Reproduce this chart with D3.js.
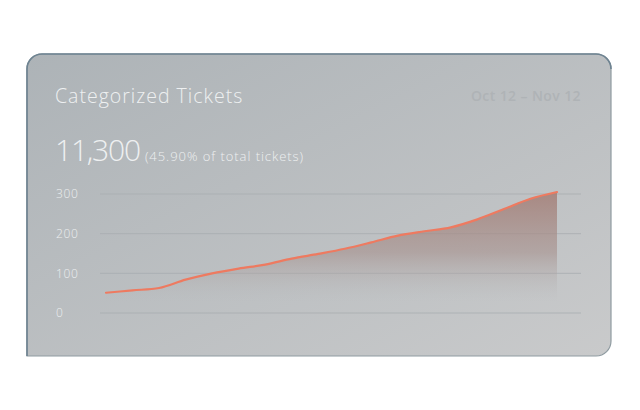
<!DOCTYPE html>
<html><head><meta charset="utf-8">
<script src="https://cdn.jsdelivr.net/npm/d3@7"></script>
<style>
html,body{margin:0;padding:0;background:#fff;}
svg{display:block;}
</style></head>
<body>
<svg id="chart" width="640" height="410"></svg>
<script>
const days = d3.range(18);
const values = [51, 57, 63, 84, 100, 112, 122, 137, 149, 162, 178, 195, 206, 216, 236, 262, 288, 305];
const yTicks = [0, 100, 200, 300];
const title = "Categorized Tickets";
const dateRange = "Oct 12 – Nov 12";
const total = "11,300";
const share = "(45.90% of total tickets)";

const svg = d3.select("#chart");
const font = "'Open Sans', 'Noto Sans', sans-serif";
const defs = svg.append("defs");

const bg = defs.append("linearGradient").attr("id","bg")
  .attr("x1","0").attr("y1","0").attr("x2","1").attr("y2","1");
bg.append("stop").attr("offset","0").attr("stop-color","#adb3b7");
bg.append("stop").attr("offset","1").attr("stop-color","#c9cacb");

const card = {x0:27, y0:54, x1:611, y1:356, r:15};
function cardPath(){
  const p = d3.path(), c = card;
  p.moveTo(c.x0, c.y0 + c.r);
  p.arcTo(c.x0, c.y0, c.x0 + c.r, c.y0, c.r);
  p.lineTo(c.x1 - c.r, c.y0);
  p.arcTo(c.x1, c.y0, c.x1, c.y0 + c.r, c.r);
  p.lineTo(c.x1, c.y1 - c.r);
  p.arcTo(c.x1, c.y1, c.x1 - c.r, c.y1, c.r);
  p.lineTo(c.x0, c.y1);
  p.closePath();
  return p.toString();
}
svg.append("path").attr("d", cardPath()).attr("fill","url(#bg)")
  .attr("stroke","#8f9ba1").attr("stroke-width",1.2);
// darker blue-grey top/left edge
(function(){
  const p = d3.path(), c = card;
  p.moveTo(c.x0, c.y1);
  p.lineTo(c.x0, c.y0 + c.r);
  p.arcTo(c.x0, c.y0, c.x0 + c.r, c.y0, c.r);
  p.lineTo(c.x1 - c.r, c.y0);
  p.arcTo(c.x1, c.y0, c.x1, c.y0 + c.r, c.r);
  svg.append("path").attr("d", p.toString()).attr("fill","none")
    .attr("stroke","#6e8391").attr("stroke-width",1.6);
})();

const x = d3.scaleLinear().domain([0, days.length - 1]).range([106, 557]);
const y = d3.scaleLinear().domain([0, 300]).range([313, 194]);

// grid
svg.append("g").selectAll("line").data(yTicks).join("line")
  .attr("x1",100).attr("x2",581)
  .attr("y1",d=>y(d)).attr("y2",d=>y(d))
  .attr("stroke","#a9aeb1").attr("stroke-width",1).attr("opacity",0.8);

svg.append("g").selectAll("text").data(yTicks).join("text")
  .attr("x",56).attr("y",d=>y(d)).attr("dy","0.36em")
  .attr("font-family",font).attr("font-weight",300).attr("font-size",12)
  .attr("letter-spacing",0.6)
  .attr("fill","#eceeef").text(d=>d);

const ag = defs.append("linearGradient").attr("id","areaGrad")
  .attr("gradientUnits","userSpaceOnUse")
  .attr("x1",0).attr("y1",y(305)).attr("x2",0).attr("y2",302);
ag.append("stop").attr("offset","0").attr("stop-color","#a47e76").attr("stop-opacity",0.85);
ag.append("stop").attr("offset","0.55").attr("stop-color","#a6908c").attr("stop-opacity",0.6);
ag.append("stop").attr("offset","1").attr("stop-color","#b5b8ba").attr("stop-opacity",0);

const curve = d3.curveMonotoneX;
svg.append("path").datum(values)
  .attr("d", d3.area().x((d,i)=>x(i)).y0(302).y1(d=>y(d)).curve(curve))
  .attr("fill","url(#areaGrad)");
svg.append("path").datum(values)
  .attr("d", d3.line().x((d,i)=>x(i)).y(d=>y(d)).curve(curve))
  .attr("fill","none").attr("stroke","#ee7a60").attr("stroke-width",2.2)
  .attr("stroke-linecap","round");

// texts
svg.append("text").attr("x",55).attr("y",103)
  .attr("font-family",font).attr("font-weight",300).attr("font-size",19.5)
  .attr("letter-spacing",1).attr("fill","#eef0f1").text(title);
svg.append("text").attr("x",581).attr("y",101).attr("text-anchor","end")
  .attr("font-family",font).attr("font-weight",600).attr("font-size",14)
  .attr("letter-spacing",0.4).attr("fill","#afb3b6").text(dateRange);
const t = svg.append("text").attr("x",55).attr("y",161)
  .attr("font-family",font).attr("fill","#eef0f1");
t.append("tspan").attr("font-weight",300).attr("font-size",30)
  .attr("letter-spacing",-1.2).text(total);
t.append("tspan").attr("dx",5).attr("font-weight",300).attr("font-size",13)
  .attr("letter-spacing",0.95).text(share);
</script>
</body></html>
